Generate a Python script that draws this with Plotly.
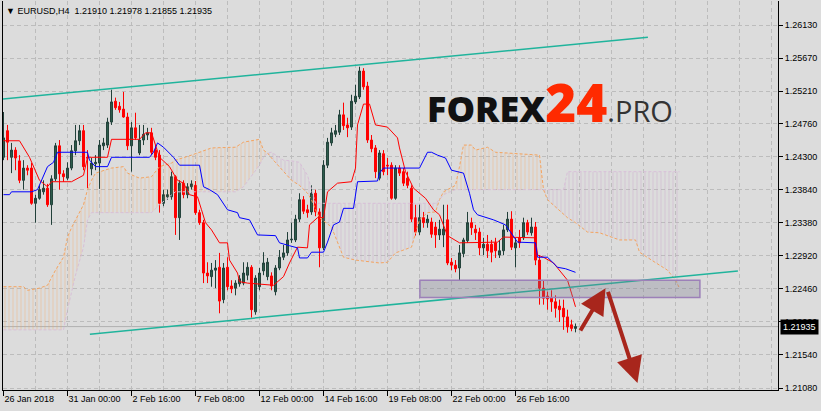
import plotly.graph_objects as go

# ---------------- data ----------------
bar_index = list(range(144))
open_p = [1.2429,1.2466,1.2429,1.2439,1.2424,1.2397,1.2414,1.2414,1.2365,1.2372,
          1.2381,1.2386,1.2363,1.2399,1.2445,1.2406,1.2400,1.2414,1.2438,1.2452,
          1.2466,1.2429,1.2413,1.2420,1.2421,1.2445,1.2446,1.2478,1.2507,1.2500,
          1.2496,1.2485,1.2445,1.2470,1.2435,1.2453,1.2460,1.2463,1.2439,1.2432,
          1.2365,1.2374,1.2374,1.2402,1.2345,1.2393,1.2377,1.2388,1.2390,1.2352,
          1.2338,1.2268,1.2263,1.2272,1.2276,1.2231,1.2276,1.2250,1.2247,1.2253,
          1.2254,1.2265,1.2276,1.2214,1.2249,1.2271,1.2263,1.2264,1.2242,1.2275,
          1.2290,1.2296,1.2314,1.2314,1.2343,1.2370,1.2356,1.2353,1.2379,1.2353,
          1.2303,1.2418,1.2449,1.2461,1.2464,1.2488,1.2474,1.2471,1.2506,1.2513,
          1.2549,1.2528,1.2453,1.2442,1.2400,1.2434,1.2418,1.2418,1.2372,1.2414,
          1.2409,1.2400,1.2386,1.2345,1.2325,1.2345,1.2338,1.2339,1.2332,1.2321,
          1.2321,1.2342,1.2283,1.2279,1.2275,1.2295,1.2313,1.2338,1.2329,1.2325,
          1.2303,1.2308,1.2308,1.2310,1.2293,1.2299,1.2328,1.2343,1.2303,1.2317,
          1.2317,1.2338,1.2324,1.2332,1.2286,1.2247,1.2236,1.2233,1.2228,1.2222,
          1.2219,1.2207,1.2196,1.21910]
high_p = [1.2492,1.2474,1.2449,1.2443,1.2432,1.2425,1.2418,1.2421,1.2377,1.2390,
          1.2397,1.2392,1.2404,1.2449,1.2453,1.2411,1.2422,1.2446,1.2474,1.2474,
          1.2474,1.2439,1.2428,1.2432,1.2453,1.2456,1.2484,1.2523,1.2512,1.2506,
          1.2520,1.2491,1.2478,1.2491,1.2474,1.2474,1.2470,1.2470,1.2446,1.2439,
          1.2384,1.2384,1.2409,1.2404,1.2397,1.2397,1.2393,1.2397,1.2396,1.2356,
          1.2342,1.2283,1.2282,1.2286,1.2296,1.2282,1.2290,1.2258,1.2258,1.2265,
          1.2283,1.2283,1.2279,1.2265,1.2275,1.2297,1.2289,1.2269,1.2279,1.2300,
          1.2307,1.2325,1.2338,1.2349,1.2379,1.2375,1.2363,1.2390,1.2384,1.2358,
          1.2425,1.2456,1.2470,1.2474,1.2495,1.2505,1.2484,1.2516,1.2530,1.2555,
          1.2553,1.2534,1.2460,1.2446,1.2439,1.2439,1.2428,1.2422,1.2418,1.2418,
          1.2414,1.2409,1.2390,1.2363,1.2363,1.2353,1.2349,1.2345,1.2339,1.2342,
          1.2363,1.2363,1.2289,1.2286,1.2307,1.2317,1.2353,1.2345,1.2335,1.2331,
          1.2317,1.2321,1.2314,1.2317,1.2314,1.2335,1.2353,1.2354,1.2317,1.2328,
          1.2345,1.2342,1.2345,1.2339,1.2293,1.2258,1.2242,1.2244,1.2237,1.2231,
          1.2231,1.2217,1.2203,1.21978]
low_p = [1.2425,1.2425,1.2407,1.2411,1.2393,1.2384,1.2404,1.2363,1.2338,1.2370,
         1.2377,1.2360,1.2335,1.2396,1.2384,1.2395,1.2397,1.2411,1.2432,1.2446,
         1.2411,1.2386,1.2404,1.2411,1.2385,1.2439,1.2442,1.2474,1.2495,1.2491,
         1.2484,1.2439,1.2409,1.2453,1.2432,1.2446,1.2453,1.2432,1.2425,1.2352,
         1.2361,1.2370,1.2370,1.2321,1.2314,1.2372,1.2372,1.2384,1.2349,1.2335,
         1.2254,1.2254,1.2249,1.2247,1.2212,1.2226,1.2244,1.2240,1.2237,1.2249,
         1.2251,1.2258,1.2206,1.2210,1.2244,1.2265,1.2258,1.2244,1.2237,1.2272,
         1.2286,1.2292,1.2310,1.2311,1.2339,1.2350,1.2345,1.2349,1.2347,1.2276,
         1.2300,1.2414,1.2445,1.2457,1.2460,1.2467,1.2457,1.2467,1.2503,1.2510,
         1.2523,1.2449,1.2436,1.2400,1.2397,1.2404,1.2404,1.2370,1.2370,1.2403,
         1.2389,1.2386,1.2339,1.2320,1.2321,1.2331,1.2331,1.2317,1.2303,1.2314,
         1.2304,1.2279,1.2272,1.2269,1.2258,1.2290,1.2310,1.2321,1.2314,1.2293,
         1.2293,1.2289,1.2283,1.2289,1.2289,1.2293,1.2325,1.2300,1.2276,1.2303,
         1.2314,1.2321,1.2320,1.2279,1.2224,1.2224,1.2217,1.2214,1.2206,1.2200,
         1.2189,1.2185,1.2187,1.21855]
close_p = [1.2456,1.2450,1.2439,1.2428,1.2397,1.2414,1.2411,1.2365,1.2372,1.2384,
           1.2386,1.2363,1.2399,1.2445,1.2406,1.2402,1.2414,1.2438,1.2452,1.2466,
           1.2416,1.2428,1.2421,1.2422,1.2446,1.2449,1.2478,1.2506,1.2498,1.2495,
           1.2485,1.2445,1.2470,1.2456,1.2453,1.2461,1.2463,1.2436,1.2429,1.2365,
           1.2377,1.2377,1.2402,1.2345,1.2393,1.2377,1.2388,1.2392,1.2352,1.2338,
           1.2268,1.2264,1.2272,1.2275,1.2229,1.2275,1.2249,1.2246,1.2254,1.2260,
           1.2268,1.2276,1.2217,1.2261,1.2268,1.2282,1.2283,1.2250,1.2275,1.2290,
           1.2296,1.2314,1.2315,1.2343,1.2370,1.2354,1.2352,1.2379,1.2353,1.2303,
           1.2418,1.2450,1.2463,1.2466,1.2488,1.2473,1.2470,1.2507,1.2514,1.2549,
           1.2527,1.2453,1.2441,1.2409,1.2435,1.2409,1.2417,1.2372,1.2414,1.2407,
           1.2393,1.2390,1.2343,1.2325,1.2345,1.2338,1.2343,1.2322,1.2321,1.2329,
           1.2329,1.2282,1.2279,1.2274,1.2296,1.2314,1.2338,1.2331,1.2324,1.2303,
           1.2308,1.2299,1.2297,1.2299,1.2299,1.2328,1.2343,1.2304,1.2310,1.2310,
           1.2338,1.2325,1.2332,1.2286,1.2247,1.2233,1.2232,1.2228,1.2219,1.2217,
           1.2207,1.2193,1.2191,1.21935]

# Ichimoku lines (bar index, price)
tenkan_x = [0,4,6.5,9,11,12,17,20,21,26,27,34,35.5,37,39,41.5,43.5,45,46.5,48.5,
            49.5,50.5,52,54,56,56.5,58.5,59,61,67.5,70,71.5,73.5,76,76.5,78.5,80,81,
            83.5,87,88,88.5,90,91.5,93,96,98.5,99,100.5,102.5,105.5,107.5,109,111,
            114,123.5,125,133,133.5,135,137.5,139,141,142,143]
tenkan_y = [1.2452,1.2452,1.2429,1.2397,1.2388,1.2395,1.2395,1.2404,1.2429,1.2429,
            1.2454,1.2454,1.2463,1.2463,1.2429,1.2416,1.2397,1.2393,1.2377,1.2374,
            1.2356,1.2338,1.2328,1.2310,1.2310,1.2286,1.2268,1.2256,1.2254,1.2251,
            1.2263,1.2282,1.2304,1.2303,1.2335,1.2345,1.2345,1.2381,1.2393,1.2395,
            1.2414,1.2474,1.2503,1.2503,1.2474,1.2471,1.2456,1.2442,1.2409,1.2386,
            1.2372,1.2356,1.2349,1.2320,1.2310,1.2311,1.2318,1.2317,1.2293,1.2290,
            1.2282,1.2272,1.2258,1.2240,1.2221]
kijun_x = [0,1.5,2,7,8.5,9.5,11,12.5,13.5,21,21.5,23,26,27,36.5,37.5,38.5,40,42.5,44,
           49,50,51.5,53.5,55,56,58.5,59,61.5,62.5,63.5,68,69,71.5,73.5,74,76,77,80,
           81,82.5,84,85,87.5,88.5,93.5,94,95,104,106,107,108.5,110.5,112,115,116.5,
           117.5,118.5,122.5,125.5,127.5,128.5,133,133.5,136,138.5,140.5,143]
kijun_y = [1.2377,1.2377,1.2381,1.2381,1.2384,1.2397,1.2416,1.2422,1.2436,1.2436,
           1.2425,1.2416,1.2416,1.2429,1.2429,1.2436,1.2449,1.2443,1.2429,1.2418,
           1.2418,1.2388,1.2384,1.2377,1.2365,1.2356,1.2352,1.2345,1.2342,1.2331,
           1.2321,1.2320,1.2310,1.2306,1.2303,1.2289,1.2289,1.2297,1.2297,1.2311,
           1.2335,1.2339,1.2358,1.2358,1.2395,1.2396,1.2407,1.2414,1.2414,1.2436,
           1.2436,1.2432,1.2428,1.2411,1.2407,1.2379,1.2356,1.2349,1.2342,1.2335,
           1.2318,1.2311,1.2310,1.2290,1.2290,1.2276,1.2274,1.2269]
cloud_x = [0,5,6,9,11,13,15,16,17,18,20,21,22,23,27,30,31,34,37,39,42,43,47,52,58,60,
           64,65,66,67,69,70,72,74,76,77,78,79,82,85,88,94,96,98,102,104,106,108,109,
           110,113,114,115,117,118,121,123,134,135,136,140,141,143,146,149,154,158,
           159,162,166,168,169]
span_a = [1.2249,1.2249,1.2244,1.2247,1.2251,1.2272,1.2290,1.2318,1.2331,1.2342,1.2363,
          1.2384,1.2397,1.2407,1.2414,1.2416,1.2407,1.2400,1.2402,1.2416,1.2421,1.2425,
          1.2432,1.2442,1.2443,1.2450,1.2454,1.2439,1.2435,1.2428,1.2416,1.2409,1.2397,
          1.2390,1.2379,1.2370,1.2356,1.2345,1.2332,1.2290,1.2286,1.2282,1.2283,1.2296,
          1.2304,1.2342,1.2352,1.2353,1.2370,1.2381,1.2390,1.2416,1.2446,1.2446,1.2439,
          1.2443,1.2436,1.2432,1.2384,1.2370,1.2349,1.2345,1.2338,1.2325,1.2324,1.2314,
          1.2314,1.2297,1.2286,1.2272,1.2258,1.2247]
span_b = [1.2189,1.2189,1.2189,1.2189,1.2189,1.2189,1.2189,1.2217,1.2240,1.2265,1.2304,
          1.2342,1.2352,1.2352,1.2352,1.2352,1.2352,1.2352,1.2352,1.2363,1.2377,1.2381,
          1.2381,1.2381,1.2381,1.2388,1.2418,1.2429,1.2435,1.2436,1.2428,1.2425,1.2424,
          1.2422,1.2404,1.2384,1.2365,1.2365,1.2365,1.2365,1.2365,1.2365,1.2365,1.2365,
          1.2365,1.2365,1.2365,1.2365,1.2370,1.2377,1.2384,1.2384,1.2384,1.2384,1.2384,
          1.2384,1.2384,1.2384,1.2384,1.2384,1.2384,1.2409,1.2409,1.2409,1.2409,1.2409,
          1.2409,1.2409,1.2409,1.2409,1.2409,1.2409]

x_tick_vals = [0, 16, 32, 48, 64, 80, 96, 112, 128]
x_tick_text = ["26 Jan 2018", "31 Jan 00:00", "2 Feb 16:00", "7 Feb 08:00", "12 Feb 00:00",
               "14 Feb 16:00", "19 Feb 08:00", "22 Feb 00:00", "26 Feb 16:00"]
y_tick_vals = [1.2613, 1.2567, 1.2521, 1.2476, 1.2430, 1.2384, 1.2338, 1.2292, 1.2246,
               1.2200, 1.2154, 1.2108]
y_tick_text = ["1.26130", "1.25670", "1.25210", "1.24760", "1.24300", "1.23840", "1.23380",
               "1.22920", "1.22460", "1.22000", "1.21540", "1.21080"]

# drawings on the chart (bar index, price)
trend_upper = ([-0.125, 161.1], [1.2510, 1.2596])
trend_lower = ([21.6, 183.6], [1.2183, 1.2271])
zone_box = ([104.1, 174.1], [1.2234, 1.2258])
arrow_up = ((144.0, 1.2186), (150.5, 1.2247))
arrow_down = ((151.0, 1.2244), (158.5, 1.2115))
last_price = 1.21935
header = "▼ EURUSD,H4  1.21910 1.21978 1.21855 1.21935"

# ---------------- figure ----------------
BG = "#dcdcdc"
GRID = "#bcbcbc"
fig = go.Figure()

# Kumo hatching, split where span A and B cross
def seg_sign(k):
    d = (span_a[k] + span_a[k + 1]) - (span_b[k] + span_b[k + 1])
    return 1 if d > 0 else -1

groups = []
start = 0
cur = seg_sign(0)
for k in range(1, len(cloud_x) - 1):
    s = seg_sign(k)
    if s != cur:
        groups.append((start, k, cur))
        start, cur = k, s
groups.append((start, len(cloud_x) - 1, cur))
for a, b, s in groups:
    xs = cloud_x[a:b + 1]
    ya = span_a[a:b + 1]
    yb = span_b[a:b + 1]
    col = "rgba(244,164,96,0.75)" if s > 0 else "rgba(200,160,200,0.8)"
    fig.add_trace(go.Scatter(
        x=xs + xs[::-1], y=ya + yb[::-1], fill="toself", mode="none",
        fillcolor="rgba(0,0,0,0)",
        fillpattern=dict(shape="|", size=4, solidity=0.25, fgcolor=col,
                         bgcolor="rgba(0,0,0,0)"),
        hoverinfo="skip", showlegend=False))

fig.add_trace(go.Scatter(x=cloud_x, y=span_a, mode="lines",
                         line=dict(color="#f4a460", width=1, dash="3px,2px"),
                         hoverinfo="skip", showlegend=False))
fig.add_trace(go.Scatter(x=cloud_x, y=span_b, mode="lines",
                         line=dict(color="#d8bfd8", width=1, dash="3px,2px"),
                         hoverinfo="skip", showlegend=False))

fig.add_trace(go.Candlestick(
    x=bar_index, open=open_p, high=high_p, low=low_p, close=close_p,
    increasing=dict(line=dict(color="#22403a", width=1), fillcolor="#2f5e4e"),
    decreasing=dict(line=dict(color="#ff0000", width=1), fillcolor="#ff0000"),
    whiskerwidth=0, hoverinfo="skip", showlegend=False))

fig.add_trace(go.Scatter(x=tenkan_x, y=tenkan_y, mode="lines",
                         line=dict(color="#ff0000", width=1),
                         hoverinfo="skip", showlegend=False))
fig.add_trace(go.Scatter(x=kijun_x, y=kijun_y, mode="lines",
                         line=dict(color="#0000ff", width=1),
                         hoverinfo="skip", showlegend=False))

shapes = [
    dict(type="line", xref="paper", x0=0, x1=1, yref="y", y0=last_price, y1=last_price,
         line=dict(color="#b0b0b0", width=1), layer="below"),
    dict(type="line", xref="x", yref="y", x0=trend_upper[0][0], x1=trend_upper[0][1],
         y0=trend_upper[1][0], y1=trend_upper[1][1],
         line=dict(color="#20b49c", width=1.5), layer="above"),
    dict(type="line", xref="x", yref="y", x0=trend_lower[0][0], x1=trend_lower[0][1],
         y0=trend_lower[1][0], y1=trend_lower[1][1],
         line=dict(color="#20b49c", width=1.5), layer="above"),
    dict(type="rect", xref="x", yref="y", x0=zone_box[0][0], x1=zone_box[0][1],
         y0=zone_box[1][0], y1=zone_box[1][1],
         fillcolor="rgba(120,120,138,0.3)", line=dict(color="#9c80b8", width=1.5),
         layer="above"),
]

def px_x(p):
    return (p - 3) / 775.0

def px_y(p):
    return (390 - p) / 389.0

annotations = [
    dict(x=arrow_up[1][0], y=arrow_up[1][1], ax=arrow_up[0][0], ay=arrow_up[0][1],
         xref="x", yref="y", axref="x", ayref="y", text="", showarrow=True,
         arrowhead=2, arrowsize=1.3, arrowwidth=4, arrowcolor="#a8261c"),
    dict(x=arrow_down[1][0], y=arrow_down[1][1], ax=arrow_down[0][0], ay=arrow_down[0][1],
         xref="x", yref="y", axref="x", ayref="y", text="", showarrow=True,
         arrowhead=2, arrowsize=1.3, arrowwidth=4, arrowcolor="#a8261c"),
    dict(x=px_x(4), y=px_y(11), xref="paper", yref="paper", xanchor="left",
         yanchor="middle", text=header, showarrow=False,
         font=dict(family="Liberation Sans", size=9, color="black")),
    dict(x=px_x(425), y=px_y(140), xref="paper", yref="paper", xanchor="left",
         yanchor="bottom", showarrow=False,
         text=("<span style='font-weight:800'>FOREX</span>"
               "<span style='color:#ff2a00;font-size:53px;font-weight:800'>24</span>"
               "<span style='color:#333333;font-size:29px;font-weight:400'>.PRO</span>"),
         font=dict(family="Open Sans", size=36, color="#111111")),
    dict(x=1, xref="paper", xanchor="left", xshift=2, y=last_price, yref="y",
         yanchor="middle", text="1.21935", showarrow=False, bgcolor="black",
         borderpad=2, font=dict(family="Liberation Sans", size=9, color="white")),
]

fig.update_layout(
    width=821, height=411,
    margin=dict(l=3, r=43, t=1, b=21),
    paper_bgcolor=BG, plot_bgcolor=BG,
    shapes=shapes, annotations=annotations,
    showlegend=False,
    xaxis=dict(range=[-0.125, 193.625], rangeslider=dict(visible=False),
               tickmode="array", tickvals=x_tick_vals, ticktext=x_tick_text,
               ticks="outside", ticklen=5, tickcolor="black",
               ticklabelposition="outside right",
               tickfont=dict(family="Liberation Sans", size=9, color="black"),
               showline=True, linecolor="black", linewidth=1,
               showgrid=True, gridcolor=GRID, griddash="4px,3px", gridwidth=1,
               minor=dict(tickmode="linear", tick0=0, dtick=8, showgrid=True,
                          gridcolor=GRID, griddash="4px,3px", ticks=""),
               zeroline=False, fixedrange=True),
    yaxis=dict(range=[1.21053, 1.26464], side="right",
               tickmode="array", tickvals=y_tick_vals, ticktext=y_tick_text,
               ticks="outside", ticklen=4, tickcolor="black",
               tickfont=dict(family="Liberation Sans", size=9, color="black"),
               showline=True, linecolor="black", linewidth=1, mirror=True,
               showgrid=True, gridcolor=GRID, griddash="4px,3px", gridwidth=1,
               zeroline=False, fixedrange=True),
)

fig.write_html("out.html", config={"displayModeBar": False},
               post_script="document.body.style.margin='0';document.body.style.background='#dcdcdc';")
